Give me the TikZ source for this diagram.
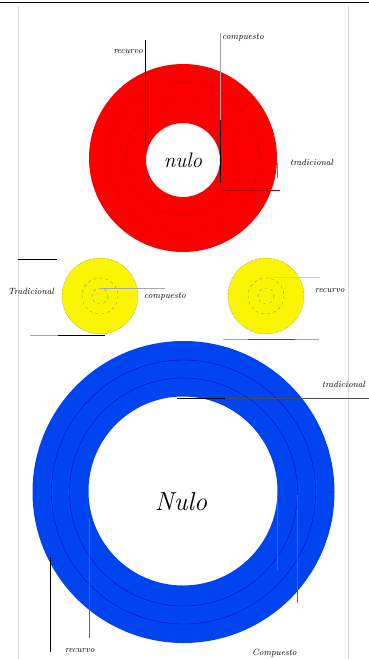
\documentclass[tikz,border=0pt]{standalone}
\usepackage{fontspec}
\setmainfont{Latin Modern Roman}
\definecolor{rojo}{RGB}{250,0,0}
\definecolor{amar}{RGB}{250,245,0}
\definecolor{azul}{RGB}{0,68,240}
\begin{document}
\begin{tikzpicture}[x=1pt,y=-1pt,
  lbl/.style={font=\itshape\fontsize{9}{10}\selectfont, inner sep=0pt},
  big/.style={font=\itshape\fontsize{21}{22}\selectfont, inner sep=0pt},
  lead/.style={draw=black, line width=0.6pt},
  leadg/.style={draw=gray!70, line width=0.5pt},
  leadb/.style={draw=gray!80!black, line width=0.7pt},
  faint/.style={line width=0.4pt}]
\useasboundingbox (0,0) rectangle (369,659);
% frame
\draw[line width=0.8pt] (0,2) -- (369,2);
\draw[gray!30, line width=0.6pt] (18,6) -- (18,659);
\draw[gray!30, line width=0.6pt] (348,6) -- (348,659);
% red ring
\fill[rojo, even odd rule] (183,158) circle (94) (183,160) circle (37);
\draw[faint, red!85!black] (183,158) circle (57);
\draw[faint, red!85!black] (183,158) circle (76);
\node[big] (nulo) at (183,160) {nulo};
% yellow targets
\fill[amar] (100,296) circle (38);
\draw[black!60, densely dotted, line width=0.4pt] (100,296) circle (38);
\draw[black!50, dashed, line width=0.3pt] (100,296) circle (18);
\draw[black!50, dashed, line width=0.3pt] (100,296) circle (8);
\fill[amar] (266,296) circle (38);
\draw[black!60, densely dotted, line width=0.4pt] (266,296) circle (38);
\draw[black!50, dashed, line width=0.3pt] (266,296) circle (18);
\draw[black!50, dashed, line width=0.3pt] (266,296) circle (8);
% blue ring
\fill[azul, even odd rule] (183.5,492) circle (151) (183,491) circle (94.5);
\draw[faint, blue!88!black] (183.5,492) circle (114);
\draw[faint, blue!88!black] (183.5,492) circle (132);
\node[big, font=\itshape\fontsize{26}{27}\selectfont] (Nulo) at (181,502) {Nulo};
% labels
\node[lbl, anchor=east] (rec1) at (143,52) {recurvo};
\node[lbl, anchor=west] (com1) at (222,38) {compuesto};
\node[lbl, anchor=west] (tra1) at (290,162) {tradicional};
\node[lbl, anchor=west] (tra2) at (8,291) {Tradicional};
\node[lbl, anchor=west] (com2) at (144,297) {compuesto};
\node[lbl, anchor=west] (rec2) at (315,291) {recurvo};
\node[lbl, anchor=west] (tra3) at (322,384) {tradicional};
\node[lbl, anchor=west] (rec3) at (65,651) {recurvo};
\node[lbl, anchor=west] (com3) at (252,653) {Compuesto};
% red leaders
\coordinate (r1a) at (145,40); \coordinate (r1b) at (145,147);
\draw[lead] (r1a) -- (r1b);
\coordinate (c1a) at (220,33); \coordinate (c1m) at (220,120); \coordinate (c1b) at (220,183);
\draw[leadg] (c1a) -- (c1m);
\draw[lead] (c1m) -- (c1b);
\coordinate (h1a) at (222,190); \coordinate (h1b) at (280,190);
\draw[leadg, red!70!black] (h1a) -- (h1b);
\coordinate (t1a) at (277,163); \coordinate (t1b) at (277,178);
\draw[lead, gray] (t1a) -- (t1b);
% yellow leaders
\coordinate (y1c) at (100,288); \coordinate (y1e) at (165,288);
\draw[leadg] (y1c) -- (y1e);
\coordinate (y1ta) at (18,259); \coordinate (y1tb) at (57,259);
\draw[lead] (y1ta) -- (y1tb);
\coordinate (y1ba) at (30,335); \coordinate (y1bm) at (58,335); \coordinate (y1bb) at (105,335);
\draw[leadg] (y1ba) -- (y1bm);
\draw[lead] (y1bm) -- (y1bb);
\coordinate (y2c) at (266,277); \coordinate (y2e) at (320,277);
\draw[leadg, gray!40] (y2c) -- (y2e);
\coordinate (y2ba) at (223,339); \coordinate (y2bm) at (248,339); \coordinate (y2bn) at (295,339); \coordinate (y2bb) at (319,339);
\draw[leadg] (y2ba) -- (y2bb);
\draw[lead, black!70] (y2bm) -- (y2bn);
% blue leaders
\coordinate (b1a) at (177,398); \coordinate (b1m) at (225,398); \coordinate (b1b) at (369,398);
\draw[leadg, black!70] (b1m) -- (b1b);
\draw[lead] (b1a) -- (b1m);
\coordinate (b2a) at (50,557); \coordinate (b2b) at (50,652);
\draw[lead] (b2a) -- (b2b);
\coordinate (b3a) at (89,518); \coordinate (b3b) at (89,638);
\draw[leadb] (b3a) -- (b3b);
\coordinate (b4a) at (277,495); \coordinate (b4b) at (277,570);
\draw[leadb] (b4a) -- (b4b);
\coordinate (b5a) at (297,495); \coordinate (b5b) at (297,603);
\draw[leadb] (b5a) -- (b5b);
\end{tikzpicture}
\end{document}
